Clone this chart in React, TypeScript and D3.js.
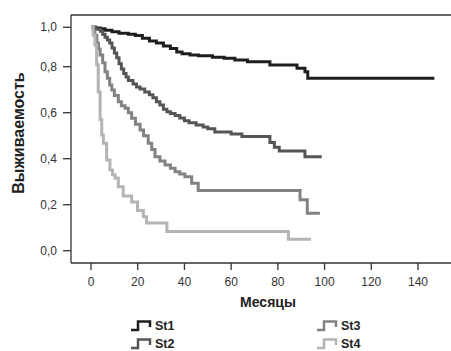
import React from "react";
import * as d3 from "d3";

const xTicks = [0, 20, 40, 60, 80, 100, 120, 140];
const yTicks = [0, 0.2, 0.4, 0.6, 0.8, 1.0];
const yTickLabels = ["0,0", "0,2", "0,4", "0,6", "0,8", "1,0"];

const seriesNames = ["St1", "St2", "St3", "St4"];
const seriesColors = ["#1e1e1e", "#555555", "#828282", "#b4b4b4"];

const st1Time = [0, 2, 4, 6, 9, 12, 16, 19, 22, 25, 28, 31, 34, 36.7, 39, 42.4, 46, 52, 57, 61.6, 67, 76.6, 88.2, 91.6, 92.8, 147];
const st1Surv = [1, 0.997, 0.993, 0.985, 0.978, 0.97, 0.965, 0.958, 0.945, 0.93, 0.92, 0.905, 0.893, 0.875, 0.866, 0.86, 0.855, 0.848, 0.843, 0.834, 0.825, 0.808, 0.793, 0.778, 0.75, 0.75];

const st2Time = [0, 2, 4, 5, 6, 7, 8, 9, 10, 11, 12, 13, 14, 15, 16, 18, 19.5, 21, 23, 25, 26.5, 28, 29.5, 31, 32.5, 34, 36, 38, 40, 42, 45, 48, 50, 53, 60, 64.6, 76.6, 78.5, 80.6, 91.6, 98.8];
const st2Surv = [1, 0.99, 0.98, 0.965, 0.95, 0.935, 0.92, 0.895, 0.87, 0.845, 0.815, 0.79, 0.77, 0.755, 0.74, 0.725, 0.712, 0.703, 0.69, 0.678, 0.665, 0.648, 0.633, 0.615, 0.604, 0.597, 0.588, 0.577, 0.565, 0.556, 0.547, 0.538, 0.53, 0.516, 0.507, 0.496, 0.47, 0.45, 0.433, 0.408, 0.408];

const st3Time = [0, 1, 1.7, 2.5, 3.2, 3.9, 5, 6, 7, 8, 8.9, 10, 11.7, 13, 14.6, 16, 17.4, 19, 21, 22.5, 24.5, 26, 27.4, 29.5, 31.7, 34, 36, 38, 40.2, 43.1, 45.9, 89.5, 92.6, 98];
const st3Surv = [1, 0.98, 0.96, 0.92, 0.89, 0.86, 0.82, 0.778, 0.75, 0.72, 0.699, 0.675, 0.648, 0.63, 0.619, 0.6, 0.576, 0.55, 0.525, 0.5, 0.467, 0.44, 0.409, 0.39, 0.373, 0.358, 0.343, 0.333, 0.322, 0.293, 0.262, 0.222, 0.163, 0.163];

const st4Time = [0, 0.9, 1.7, 2.4, 3.1, 3.9, 4.6, 5.3, 6.7, 8.1, 9.2, 10.3, 11.7, 13.8, 17.4, 19.9, 22.4, 23.8, 32.5, 84.5, 94.2];
const st4Surv = [1, 0.96, 0.91, 0.81, 0.69, 0.57, 0.503, 0.467, 0.394, 0.351, 0.33, 0.316, 0.278, 0.238, 0.212, 0.175, 0.148, 0.12, 0.083, 0.05, 0.05];

const seriesTimes = [st1Time, st2Time, st3Time, st4Time];
const seriesSurv = [st1Surv, st2Surv, st3Surv, st4Surv];

const W = 451;
const H = 351;
const frameLeft = 71;
const frameTop = 15;
const frameBottom = 263;
const font = "'Liberation Sans', Arial, sans-serif";

export default function App() {
  const x = d3.scaleLinear().domain([0, 140]).range([91, 418]);
  const y = d3.scaleLinear().domain([0, 0.8, 1]).range([250.7, 66.7, 27.3]);

  const line = d3
    .line<[number, number]>()
    .x((d) => x(d[0]))
    .y((d) => y(d[1]))
    .curve(d3.curveStepAfter);

  const legendPos = [
    [131, 330],
    [131, 348],
    [317, 330],
    [317, 348],
  ];

  return (
    <svg
      width={W}
      height={H}
      style={{ position: "absolute", left: 0, top: 0, background: "#fff" }}
      fontFamily={font}
    >
      <rect x={0} y={0} width={W} height={H} fill="#fff" />
      {/* frame */}
      <line x1={frameLeft} x2={W} y1={frameTop} y2={frameTop} stroke="#333" strokeWidth={1.3} />
      <line x1={frameLeft} x2={W} y1={frameBottom} y2={frameBottom} stroke="#333" strokeWidth={1.3} />
      <line x1={frameLeft} x2={frameLeft} y1={frameTop} y2={frameBottom} stroke="#333" strokeWidth={1.3} />

      {/* y ticks */}
      {yTicks.map((t, i) => (
        <g key={"y" + i}>
          <line x1={63} x2={frameLeft} y1={y(t)} y2={y(t)} stroke="#333" strokeWidth={1.3} />
          <text x={57} y={y(t) + 4} textAnchor="end" fontSize={12} fill="#333">
            {yTickLabels[i]}
          </text>
        </g>
      ))}

      {/* x ticks */}
      {xTicks.map((t, i) => (
        <g key={"x" + i}>
          <line x1={x(t)} x2={x(t)} y1={frameBottom} y2={frameBottom + 7} stroke="#333" strokeWidth={1.3} />
          <text x={x(t)} y={286} textAnchor="middle" fontSize={12} fill="#333">
            {t}
          </text>
        </g>
      ))}

      {/* curves */}
      {seriesTimes.map((times, i) => {
        const pts: [number, number][] = times.map((t, j) => [t, seriesSurv[i][j]]);
        return (
          <path
            key={"s" + i}
            d={line(pts) || ""}
            fill="none"
            stroke={seriesColors[i]}
            strokeWidth={3}
          />
        );
      })}

      {/* axis titles */}
      <text x={268} y={307} textAnchor="middle" fontSize={14} fontWeight="bold" fill="#222">
        Месяцы
      </text>
      <text
        transform={`translate(24, 133) rotate(-90)`}
        textAnchor="middle"
        fontSize={16}
        fontWeight="bold"
        fill="#222"
      >
        Выживаемость
      </text>

      {/* legend */}
      {seriesNames.map((name, i) => {
        const [lx, ly] = legendPos[i];
        return (
          <g key={"l" + i}>
            <path
              d={`M${lx},${ly} H${lx + 7} V${ly - 8.5} H${lx + 19} V${ly - 3}`}
              fill="none"
              stroke={seriesColors[i]}
              strokeWidth={2.5}
            />
            <text x={lx + 24} y={ly} fontSize={12.5} fontWeight="bold" fill="#222">
              {name}
            </text>
          </g>
        );
      })}
    </svg>
  );
}
